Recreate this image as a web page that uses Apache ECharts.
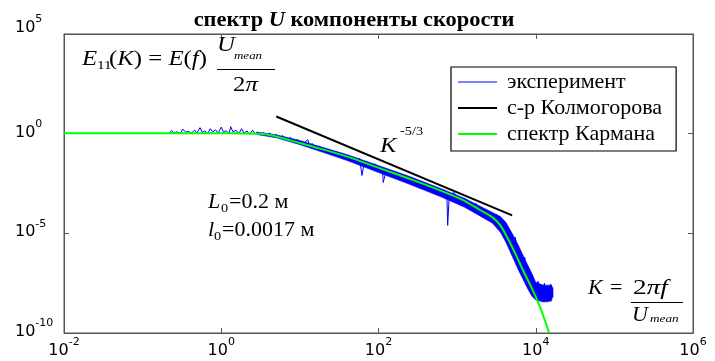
<!DOCTYPE html>
<html><head><meta charset="utf-8">
<script src="https://cdn.jsdelivr.net/npm/echarts@6/dist/echarts.min.js"></script>
<style>html,body{margin:0;padding:0;background:#fff}#c{width:715px;height:361px}</style>
</head><body><div id="c"></div>
<script>
// ---- data (log10 values) ----
const xTickExps = [-2, 0, 2, 4, 6];
const yTickExps = [-10, -5, 0, 5];
const seriesNames = ['эксперимент', 'с-р Колмогорова', 'спектр Кармана'];

// Karman spectrum (green)
const karmanLogK = [-2, -1, 0, 0.3, 0.5, 0.62, 0.75, 0.9, 1.17, 1.6, 2.02, 2.44, 2.87, 3.1, 3.29, 3.45, 3.55, 3.65, 3.75, 3.85, 3.95, 4.05, 4.12, 4.17];
const karmanLogE = [0.02, 0.02, 0.02, 0.01, -0.01, -0.07, -0.19, -0.36, -0.655, -1.15, -1.74, -2.33, -2.98, -3.38, -3.83, -4.2, -4.6, -5.3, -6.1, -6.95, -7.75, -8.65, -9.4, -10];

// Kolmogorov K^-5/3 line (black)
const kolmLogK = [0.7, 3.7];
const kolmLogE = [0.86, -4.1];

// experiment (blue): band envelope
const bandLogK   = [0.45, 0.7, 1.0, 1.3, 1.6, 2.0, 2.4, 2.8, 3.1, 3.3, 3.45, 3.55, 3.62, 3.7, 3.78, 3.85, 3.9, 3.95, 4.0, 4.1, 4.2, 4.22];
const bandUpLogE = [0.08, -0.06, -0.34, -0.7, -1.05, -1.6, -2.15, -2.76, -3.25, -3.65, -3.95, -4.15, -4.45, -5.0, -5.6, -6.2, -6.6, -7.0, -7.45, -7.6, -7.6, -7.75];
const bandLoLogE = [-0.04, -0.21, -0.55, -0.95, -1.35, -1.95, -2.55, -3.18, -3.7, -4.15, -4.5, -4.95, -5.45, -6.15, -6.85, -7.4, -7.8, -8.15, -8.35, -8.45, -8.4, -8.1];

// experiment (blue): noisy trace
const expLogK = [-0.66,-0.63,-0.6,-0.57,-0.52,-0.49,-0.45,-0.42,-0.38,-0.34,-0.31,-0.27,-0.24,-0.21,-0.17,-0.14,-0.11,-0.07,-0.04,0.0,0.03,0.06,0.1,0.12,0.15,0.19,0.22,0.26,0.29,0.33,0.36,0.4,0.43,0.47,0.5,0.54,0.58,0.62,0.66,0.7,0.74,0.78,0.83,0.88,0.92,0.97,1.02,1.07,1.1,1.12,1.16,1.2,1.25,1.3,1.36,1.42,1.48,1.55,1.62,1.7,1.76,1.78,1.79,1.82,1.88,1.95,2.02,2.05,2.06,2.1,2.18,2.25,2.32,2.4,2.48,2.55,2.62,2.7,2.78,2.84,2.87,2.88,2.9,2.96,3.03,3.1,3.17,3.24,3.3,3.37,3.45,3.5,3.56,3.62,3.68,3.74,3.8,3.86,3.91,3.95,3.99,4.03,4.07,4.11,4.15,4.19,4.22];
const expLogE = [0.05,0.15,0.03,0.1,0.01,0.23,0.07,0.12,0.02,0.18,0.04,0.3,0.06,0.14,0.01,0.25,0.09,0.19,0.03,0.33,0.07,0.15,0.0,0.35,0.09,0.17,-0.01,0.25,0.03,0.13,-0.03,0.17,-0.01,0.07,-0.06,0.06,-0.08,0.03,-0.17,-0.04,-0.23,-0.09,-0.31,-0.19,-0.43,-0.3,-0.55,-0.4,-0.3,-0.6,-0.5,-0.78,-0.62,-0.9,-0.78,-1.0,-0.92,-1.2,-1.1,-1.38,-1.25,-1.15,-2.1,-1.42,-1.7,-1.52,-1.92,-1.68,-2.45,-1.82,-2.1,-1.98,-2.38,-2.18,-2.58,-2.42,-2.82,-2.64,-3.08,-2.82,-3.15,-4.6,-3.1,-2.95,-3.45,-3.25,-3.7,-3.5,-4.05,-3.8,-4.4,-4.05,-4.85,-4.5,-5.8,-5.2,-6.7,-6.2,-7.6,-7.05,-8.25,-7.4,-8.4,-7.5,-8.45,-7.55,-8.2];

// ---- build ----
const p10 = v => Math.pow(10, v);
const pairs = (xs, ys) => xs.map((x, i) => [p10(x), p10(ys[i])]);

const SERIF = '"Liberation Serif", "Times New Roman", serif';
const SANS = '"DejaVu Sans", "Liberation Sans", Arial, sans-serif';
const AX = '#555';

function xLabel(v) {
  const e = Math.round(Math.log10(v));
  return '{b|10}{s|' + e + '}';
}
function yLabel(v) {
  const e = Math.round(Math.log10(v));
  if (e === 5) return '{tb|10}{ts|' + e + '}';
  return '{b|10}{s|' + e + '}';
}
const xRich = {
  b: {fontFamily: SANS, fontSize: 16, lineHeight: 16, padding: [6, 0, 0, 0], color: '#000'},
  s: {fontFamily: SANS, fontSize: 11, lineHeight: 11, padding: [0, 0, 11, 0], color: '#000'}
};
const yRich = {
  b: {fontFamily: SANS, fontSize: 16, lineHeight: 16, padding: [6, 0, 8, 0], color: '#000'},
  s: {fontFamily: SANS, fontSize: 11, lineHeight: 11, padding: [0, 0, 19, 0], color: '#000'},
  tb: {fontFamily: SANS, fontSize: 16, lineHeight: 16, padding: [6, 0, 18, 0], color: '#000'},
  ts: {fontFamily: SANS, fontSize: 11, lineHeight: 11, padding: [0, 0, 29, 0], color: '#000'}
};

const xAxisBase = {
  type: 'log', logBase: 10, min: p10(xTickExps[0]), max: p10(xTickExps[xTickExps.length - 1]), interval: 2,
  axisLine: {show: true, lineStyle: {color: AX, width: 1}},
  axisTick: {show: true, inside: true, length: 5, lineStyle: {color: AX}},
  minorTick: {show: false}, splitLine: {show: false}
};
const yAxisBase = {
  type: 'log', logBase: 10, min: p10(yTickExps[0]), max: p10(yTickExps[yTickExps.length - 1]), interval: 5,
  axisLine: {show: true, lineStyle: {color: AX, width: 1}},
  axisTick: {show: true, inside: true, length: 5, lineStyle: {color: AX}},
  minorTick: {show: false}, splitLine: {show: false}
};

const SX = 1.18;
function T(x, y, text, font, sx) {
  return {
    type: 'text', x: x, y: y, z: 100, scaleX: sx || SX,
    style: {text: text, font: font, fill: '#000', textAlign: 'left', align: 'left', textVerticalAlign: 'middle', verticalAlign: 'middle'}
  };
}
const I21 = 'italic 21px ' + SERIF, R21 = '21px ' + SERIF, I20 = 'italic 20px ' + SERIF, R20 = '20px ' + SERIF;
const R13 = '13px ' + SERIF, I11 = 'italic 11px ' + SERIF;
const richF = {
  i: {fontFamily: SERIF, fontSize: 21, fontStyle: 'italic', color: '#000'},
  n: {fontFamily: SERIF, fontSize: 21, color: '#000'}
};
function RT(x, y, text, sx) {
  return {type: 'text', x: x, y: y, z: 100, scaleX: sx || SX,
    style: {text: text, rich: richF, fill: '#000', font: R21, textAlign: 'left', align: 'left', textVerticalAlign: 'middle', verticalAlign: 'middle'}};
}
function HL(x1, x2, y) {
  return {type: 'line', z: 100, shape: {x1: x1, y1: y, x2: x2, y2: y}, style: {stroke: '#000', lineWidth: 1}};
}

const chart = echarts.init(document.getElementById('c'), null, {renderer: 'canvas'});
chart.setOption({
  animation: false,
  backgroundColor: '#fff',
  grid: {left: 64, top: 34, right: 22, bottom: 28, containLabel: false, outerBoundsMode: 'none',
         show: true, borderColor: AX, borderWidth: 1, backgroundColor: 'transparent'},
  xAxis: [
    Object.assign({}, xAxisBase, {position: 'bottom', axisLabel: {show: true, margin: 7, formatter: xLabel, rich: xRich}}),
    Object.assign({}, xAxisBase, {position: 'top', axisLabel: {show: false}})
  ],
  yAxis: [
    Object.assign({}, yAxisBase, {position: 'left', axisLabel: {show: true, margin: 49, align: 'left', formatter: yLabel, rich: yRich}}),
    Object.assign({}, yAxisBase, {position: 'right', axisLabel: {show: false}})
  ],
  legend: {
    show: true, orient: 'vertical', left: 451, top: 67,
    data: [
      {name: seriesNames[0], icon: 'path://M0 0 H40 V1 H0 Z'},
      {name: seriesNames[1], icon: 'path://M0 0 H20 V1 H0 Z'},
      {name: seriesNames[2], icon: 'path://M0 0 H20 V1 H0 Z'}
    ],
    backgroundColor: '#fff', borderColor: '#000', borderWidth: 1.2,
    padding: [4, 14, 6, 7], itemGap: 4, itemWidth: 39, itemHeight: 22,
    textStyle: {fontFamily: SERIF, fontSize: 22, lineHeight: 22, color: '#000', padding: [0, 0, 0, 5]}
  },
  series: [
    {
      type: 'custom', name: 'band', xAxisIndex: 0, yAxisIndex: 0, silent: true, z: 2,
      data: [[1, 1]],
      renderItem: function (params, api) {
        const pts = [];
        for (let i = 0; i < bandLogK.length; i++) pts.push(api.coord([p10(bandLogK[i]), p10(bandUpLogE[i])]));
        for (let i = bandLogK.length - 1; i >= 0; i--) pts.push(api.coord([p10(bandLogK[i]), p10(bandLoLogE[i])]));
        return {type: 'polygon', shape: {points: pts}, style: {fill: '#0000ff', stroke: '#0000ff', lineWidth: 0.5}};
      }
    },
    {
      type: 'line', name: seriesNames[0], data: pairs(expLogK, expLogE), showSymbol: false, symbol: 'none',
      lineStyle: {color: '#0000ff', width: 1}, itemStyle: {color: '#0000ff'}, z: 2
    },
    {
      type: 'line', name: seriesNames[1], data: pairs(kolmLogK, kolmLogE), showSymbol: false, symbol: 'none',
      lineStyle: {color: '#000', width: 2}, itemStyle: {color: '#000'}, z: 3
    },
    {
      type: 'line', name: seriesNames[2], data: pairs(karmanLogK, karmanLogE), showSymbol: false, symbol: 'none', smooth: 0.3,
      lineStyle: {color: '#00ff00', width: 2}, itemStyle: {color: '#00ff00'}, z: 4
    }
  ],
  graphic: [
    {type: 'text', x: 354, y: 21, z: 100, scaleX: 1.12,
     style: {text: '{a|спектр }{b|U}{a| компоненты скорости}', fill: '#000',
       rich: {a: {fontFamily: SERIF, fontSize: 20, fontWeight: 'bold', color: '#000'},
              b: {fontFamily: SERIF, fontSize: 20, fontWeight: 'bold', fontStyle: 'italic', color: '#000'}},
       textAlign: 'center', align: 'center', textVerticalAlign: 'middle', verticalAlign: 'middle'}},
    // E11(K) = E(f) Umean / 2pi
    T(82, 59, 'E', I21),
    T(97, 66, '11', R13),
    RT(109, 59, '{n|(}{i|K}{n|) = }{i|E}{n|(}{i|f}{n|)}'),
    T(217, 45, 'U', I21),
    T(234, 56, 'mean', I11),
    HL(217, 275, 69.5),
    RT(233, 85, '{n|2}{i|π}'),
    // K^-5/3
    T(380, 146, 'K', I21),
    T(400, 132, '-5/3', R13, 1.1),
    // L0, l0
    T(208, 203, 'L', I20, 1.1),
    T(221, 209, '0', R13, 1.1),
    T(229, 203, '=0.2 м', R20, 1.1),
    T(208, 231, 'l', I20, 1.1),
    T(214, 237, '0', R13, 1.1),
    T(222, 231, '=0.0017 м', R20, 1.1),
    // K = 2pi f / Umean
    T(588, 288, 'K', I21, 1.05),
    T(610, 288, '=', R21, 1.05),
    RT(633, 288, '{n|2}{i|πf}', 1.3),
    HL(631, 683, 302.5),
    T(632, 315, 'U', I21, 1.05),
    T(650, 319, 'mean', I11, 1.2)
  ]
});
</script>
</body></html>
